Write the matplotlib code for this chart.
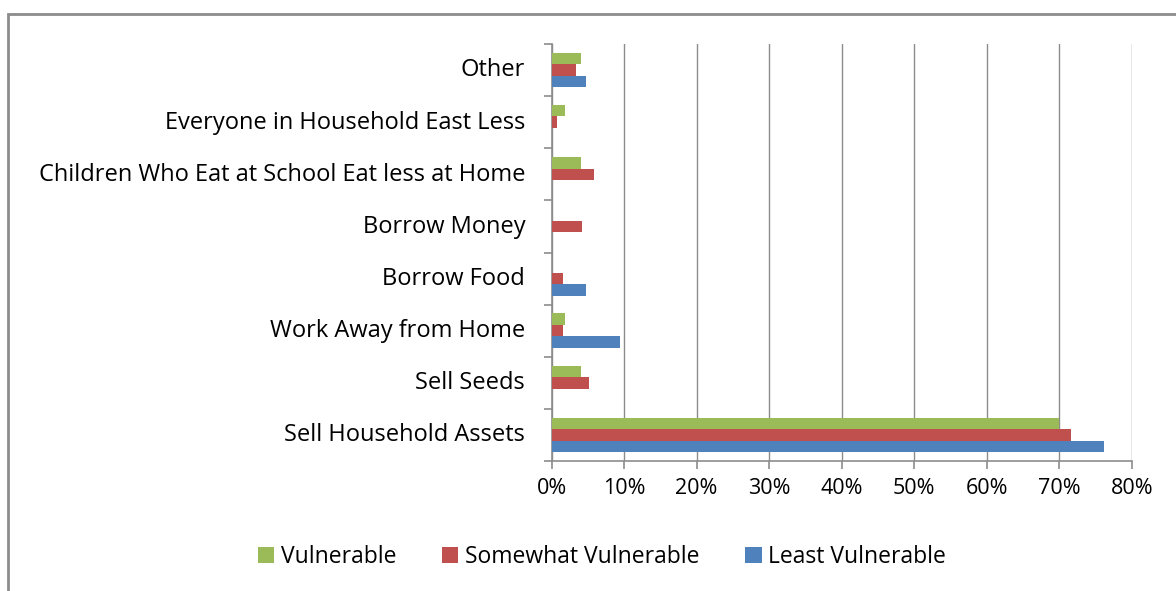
import numpy as np
import matplotlib.pyplot as plt
from matplotlib.patches import Rectangle
from matplotlib.ticker import FixedLocator, PercentFormatter

categories = ['Sell Household Assets', 'Sell Seeds', 'Work Away from Home', 'Borrow Food',
              'Borrow Money', 'Children Who Eat at School Eat less at Home',
              'Everyone in Household East Less', 'Other']
vulnerable = [70.0, 4.0, 1.8, 0, 0, 4.0, 1.8, 4.0]
somewhat = [71.6, 5.1, 1.6, 1.6, 4.2, 5.9, 0.7, 3.4]
least = [76.2, 0, 9.5, 4.7, 0, 0, 0, 4.7]

series = [('Vulnerable', vulnerable, '#9bbb59'),
          ('Somewhat Vulnerable', somewhat, '#c0504d'),
          ('Least Vulnerable', least, '#4f81bd')]

plt.rcParams['font.family'] = ['Open Sans', 'DejaVu Sans']

fig = plt.figure(figsize=(11.76, 5.91), dpi=100)
ax = fig.add_axes([0.469, 0.22, 0.4936, 0.7055])

y = np.arange(len(categories))
h = 0.22
offsets = [h, 0, -h]
for (name, vals, col), off in zip(series, offsets):
    ax.barh(y + off, vals, height=h, color=col, label=name, zorder=3)

ax.set_xlim(0, 80)
ax.set_ylim(-0.5, len(categories) - 0.5)
ax.set_xticks(np.arange(0, 81, 10))
ax.xaxis.set_major_formatter(PercentFormatter(decimals=0))
ax.grid(axis='x', color='#8c8c8c', linewidth=1, zorder=0)

ax.set_yticks(y + 0.05)
ax.set_yticklabels(categories)
ax.yaxis.set_minor_locator(FixedLocator(np.arange(-0.5, len(categories), 1)))
ax.tick_params(axis='y', which='major', length=0, pad=19, labelsize=17)
ax.tick_params(axis='y', which='minor', length=6, color='#8c8c8c', width=1.2)
ax.tick_params(axis='x', length=6, color='#8c8c8c', width=1.2, labelsize=15.5, pad=6)

for s in ['top', 'right']:
    ax.spines[s].set_visible(False)
for s in ['left', 'bottom']:
    ax.spines[s].set_color('#8c8c8c')
    ax.spines[s].set_linewidth(1.2)

handles, labels = ax.get_legend_handles_labels()
fig.legend(handles, labels, loc='center', bbox_to_anchor=(0.512, 0.057), ncol=3,
           frameon=False, fontsize=16.5, handlelength=0.7, handleheight=0.7,
           handletextpad=0.3, columnspacing=2.0)

fig.patches.append(Rectangle((8 / 1176, -0.1), 1.2, 1.1 - 14 / 591,
                             transform=fig.transFigure, fill=False,
                             edgecolor='#8c8c8c', linewidth=2))

fig.savefig('out.png', dpi=100)
